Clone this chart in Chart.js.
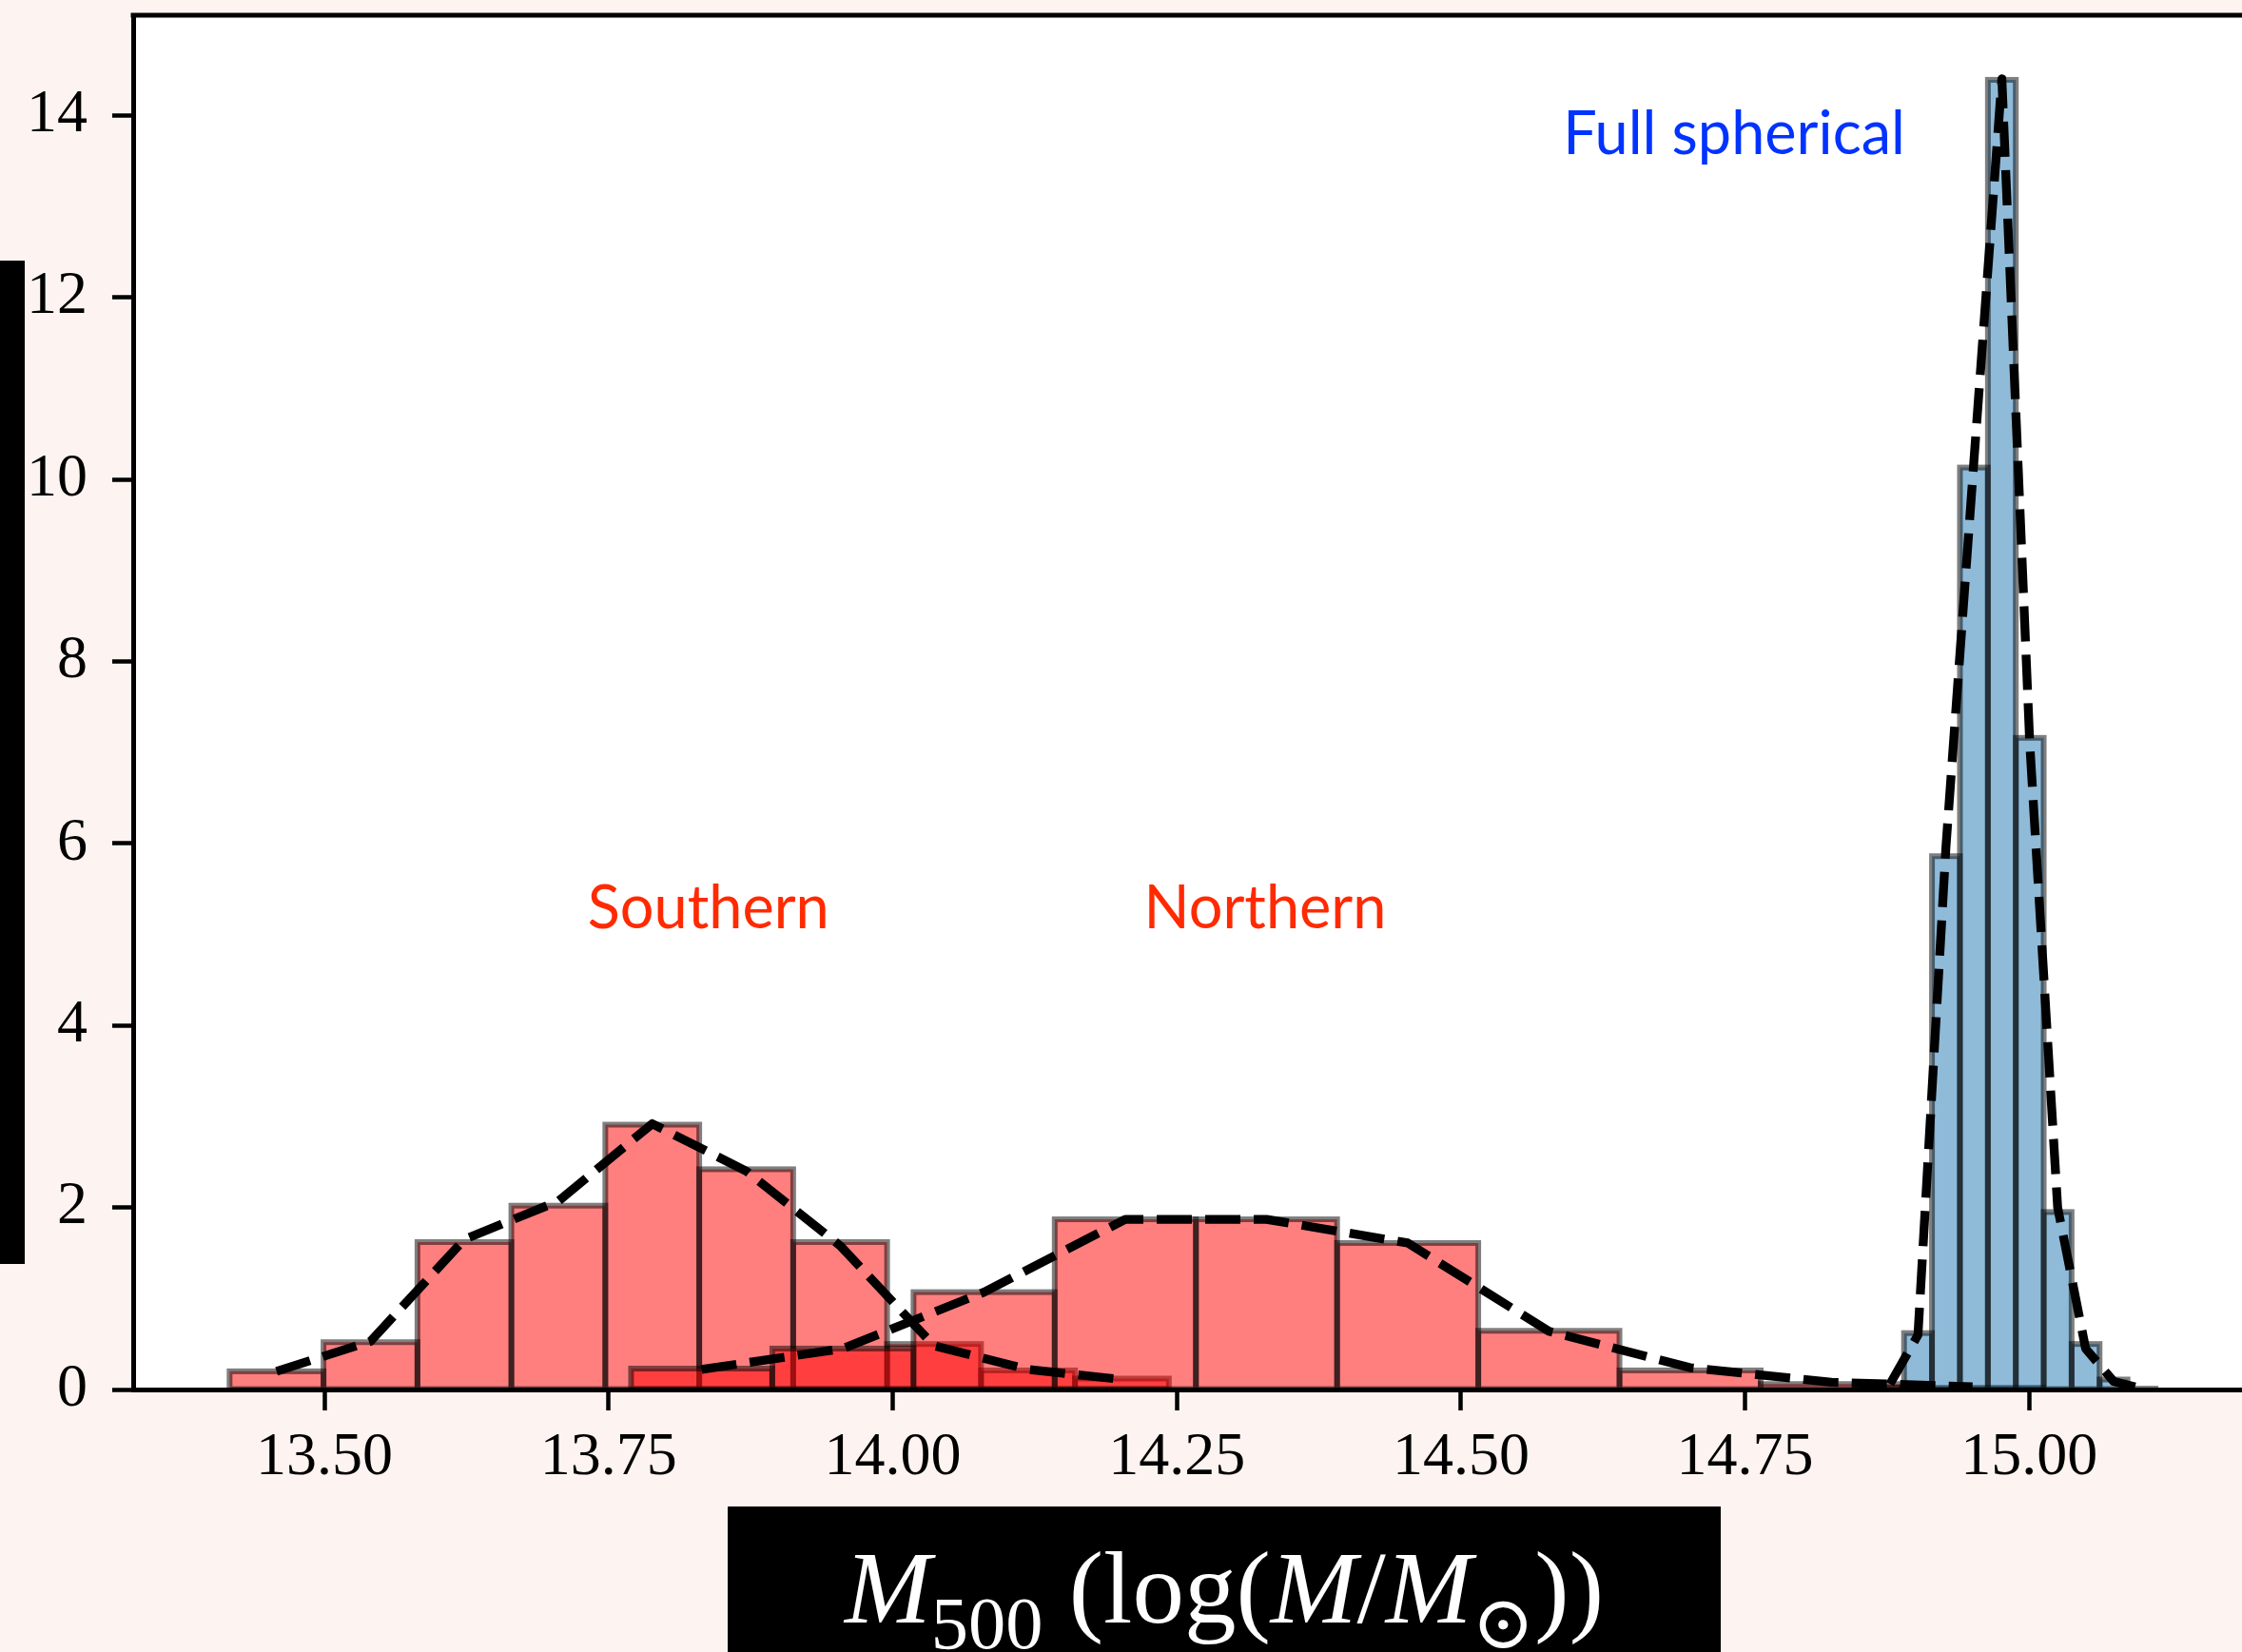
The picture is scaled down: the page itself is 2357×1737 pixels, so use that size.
<!DOCTYPE html>
<html>
<head>
<meta charset="utf-8">
<script src="https://cdn.jsdelivr.net/npm/chart.js@4.4.1/dist/chart.umd.min.js"></script>
<style>
  html, body { margin: 0; padding: 0; background: #fdf4f1; overflow: hidden; }
  #wrap { position: relative; width: 2357px; height: 1737px; }
  #yLabelBox { position: absolute; left: 0; top: 274px; width: 26px; height: 1055px; background: #000; }
  #xLabelBox { position: absolute; left: 765px; top: 1584px; width: 1044px; height: 200px; background: #000;
               color: #fff; font-family: 'Liberation Serif', 'DejaVu Serif', serif; font-size: 109px; }
  #xLabelBox .txt { position: absolute; left: 0; right: 0; top: 31px; line-height: 1; text-align: center; white-space: nowrap; }
  #xLabelBox sub { font-size: 0.72em; line-height: 0; vertical-align: -27px; }
</style>
</head>
<body>
<div id="wrap">
  <canvas id="myChart"></canvas>
  <div id="yLabelBox"></div>
  <div id="xLabelBox"><div class="txt"><i>M</i><sub>500</sub> (log(<i>M</i>/<i>M</i><sub>&#8857;</sub>))</div></div>
</div>
<script>
// Histogram bin edges
const southernEdges = [13.4165, 13.4992, 13.5818, 13.6645, 13.7471, 13.8298, 13.9124, 13.9951, 14.0777, 14.1604, 14.2430];
const northernEdges = [13.7698, 13.8940, 14.0183, 14.1425, 14.2668, 14.3910, 14.5152, 14.6395, 14.7637, 14.8880, 15.0122];
const fullEdges = [14.8652, 14.8898, 14.9144, 14.9390, 14.9636, 14.9882, 15.0127, 15.0373, 15.0619, 15.0865, 15.1111];

// Bar heights (density)
const southernDensity = [0.20, 0.52, 1.62, 2.02, 2.91, 2.42, 1.62, 0.50, 0.21, 0.12];
const northernDensity = [0.23, 0.45, 1.07, 1.87, 1.87, 1.61, 0.645, 0.21, 0.06, 0.02];
const fullDensity = [0.02, 0.62, 5.86, 10.13, 14.39, 7.16, 1.95, 0.50, 0.11, 0.01];

// KDE values at the bin centres (dashed lines)
const southernKde = [0.20, 0.53, 1.65, 2.07, 2.92, 2.40, 1.58, 0.48, 0.22, 0.11];
const northernKde = [0.22, 0.45, 1.07, 1.87, 1.87, 1.61, 0.64, 0.24, 0.08, 0.03];
const fullKde = [0.06, 0.60, 5.96, 10.2, 14.40, 7.10, 2.00, 0.45, 0.09, 0.01];

const xMin = 13.3317;
const xMax = 15.1872;
const yMax = 15.1;

// text labels put on the plot, in data coordinates
const annotations = [
    {text: "Southern", x: 13.7316, y: 5.07, color: "#ff2a00"},
    {text: "Northern", x: 14.2210, y: 5.07, color: "#ff2a00"},
    {text: "Full spherical", x: 14.5899, y: 13.57, color: "#0033ff"}
];

function centres(edges) {
    let c = [];
    for (let i = 0; i < edges.length - 1; i++) {
        c.push((edges[i] + edges[i + 1]) / 2);
    }
    return c;
}

function toPoints(xs, ys) {
    return xs.map(function(x, i) { return {x: x, y: ys[i]}; });
}

function barSet(label, edges, heights, color, axis, order) {
    return {
        type: 'bar',
        label: label,
        data: toPoints(centres(edges), heights),
        xAxisID: axis,
        backgroundColor: color,
        borderWidth: 0,
        inflateAmount: 0,
        barPercentage: 1,
        categoryPercentage: 1,
        grouped: false,
        order: order
    };
}

function kdeSet(label, edges, values) {
    return {
        type: 'line',
        label: label,
        data: toPoints(centres(edges), values),
        xAxisID: 'x',
        borderColor: '#000',
        borderWidth: 9.3,
        borderDash: [37, 14],
        borderJoinStyle: 'round',
        pointRadius: 0,
        fill: false,
        tension: 0,
        order: 0
    };
}

// Page / plot backgrounds
const backgroundPlugin = {
    id: 'bg',
    beforeDraw: function(chart) {
        const ctx = chart.ctx, a = chart.chartArea;
        ctx.save();
        ctx.fillStyle = '#fdf4f1';
        ctx.fillRect(0, 0, chart.width, chart.height);
        ctx.fillStyle = '#ffffff';
        ctx.fillRect(a.left, a.top, a.right - a.left, a.bottom - a.top);
        ctx.restore();
    }
};

// matplotlib style bar edges: each bar outlined with a centred, half transparent stroke
const edgePlugin = {
    id: 'edges',
    afterDatasetDraw: function(chart, args) {
        const meta = args.meta;
        if (meta.type !== 'bar') return;
        const ctx = chart.ctx;
        ctx.save();
        ctx.strokeStyle = 'rgba(0,0,0,0.5)';
        ctx.lineWidth = 6;
        meta.data.forEach(function(bar) {
            const p = bar.getProps(['x', 'y', 'base', 'width'], true);
            ctx.strokeRect(p.x - p.width / 2, p.y, p.width, p.base - p.y);
        });
        ctx.restore();
    }
};

// top spine and the text labels
const framePlugin = {
    id: 'frame',
    afterDraw: function(chart) {
        const ctx = chart.ctx, a = chart.chartArea;
        ctx.save();
        ctx.strokeStyle = '#000';
        ctx.lineWidth = 5;
        ctx.beginPath();
        ctx.moveTo(a.left - 2.5, a.top);
        ctx.lineTo(a.right, a.top);
        ctx.stroke();

        ctx.font = '63px Lato';
        ctx.textAlign = 'left';
        ctx.textBaseline = 'alphabetic';
        annotations.forEach(function(t) {
            ctx.fillStyle = t.color;
            ctx.fillText(t.text, chart.scales.x.getPixelForValue(t.x), chart.scales.y.getPixelForValue(t.y));
        });
        ctx.restore();
    }
};

const tickFont = {family: 'Liberation Serif', size: 64};

function hiddenAxis() {
    return {type: 'linear', display: false, offset: false, grid: {offset: false},
            min: xMin, max: xMax, ticks: {stepSize: 0.25}};
}

const ctx = document.getElementById('myChart');
ctx.width = 2357;
ctx.height = 1737;

const myChart = new Chart(ctx, {
    type: 'bar',
    data: {
        datasets: [
            barSet('Southern', southernEdges, southernDensity, 'rgba(255,0,0,0.5)', 'x', 3),
            barSet('Northern', northernEdges, northernDensity, 'rgba(255,0,0,0.5)', 'x2', 2),
            barSet('Full spherical', fullEdges, fullDensity, 'rgba(31,119,180,0.5)', 'x3', 1),
            kdeSet('Southern KDE', southernEdges, southernKde),
            kdeSet('Northern KDE', northernEdges, northernKde),
            kdeSet('Full KDE', fullEdges, fullKde)
        ]
    },
    options: {
        responsive: false,
        animation: false,
        layout: {padding: {top: 16, left: 0, right: 0, bottom: 0}},
        plugins: {legend: {display: false}, tooltip: {enabled: false}},
        scales: {
            x: {
                type: 'linear',
                min: xMin,
                max: xMax,
                offset: false,
                ticks: {
                    stepSize: 0.25, includeBounds: false, autoSkip: false, maxRotation: 0,
                    padding: 12, color: '#000', font: tickFont,
                    callback: function(v) { return v.toFixed(2); }
                },
                grid: {offset: false, drawOnChartArea: false, drawTicks: true, tickLength: 22, tickWidth: 4.5, tickColor: '#000'},
                border: {display: true, color: '#000', width: 5, z: 1},
                afterFit: function(s) { s.height = 276; s.paddingLeft = 0; s.paddingRight = 0; }
            },
            x2: hiddenAxis(),
            x3: hiddenAxis(),
            y: {
                type: 'linear',
                min: 0,
                max: yMax,
                ticks: {stepSize: 2, includeBounds: false, padding: 26, color: '#000', font: tickFont},
                grid: {drawOnChartArea: false, drawTicks: true, tickLength: 22, tickWidth: 4.5, tickColor: '#000'},
                border: {display: true, color: '#000', width: 5, z: 1},
                afterFit: function(s) { s.width = 140; s.paddingTop = 0; s.paddingBottom = 0; }
            }
        }
    },
    plugins: [backgroundPlugin, edgePlugin, framePlugin]
});
</script>
</body>
</html>
